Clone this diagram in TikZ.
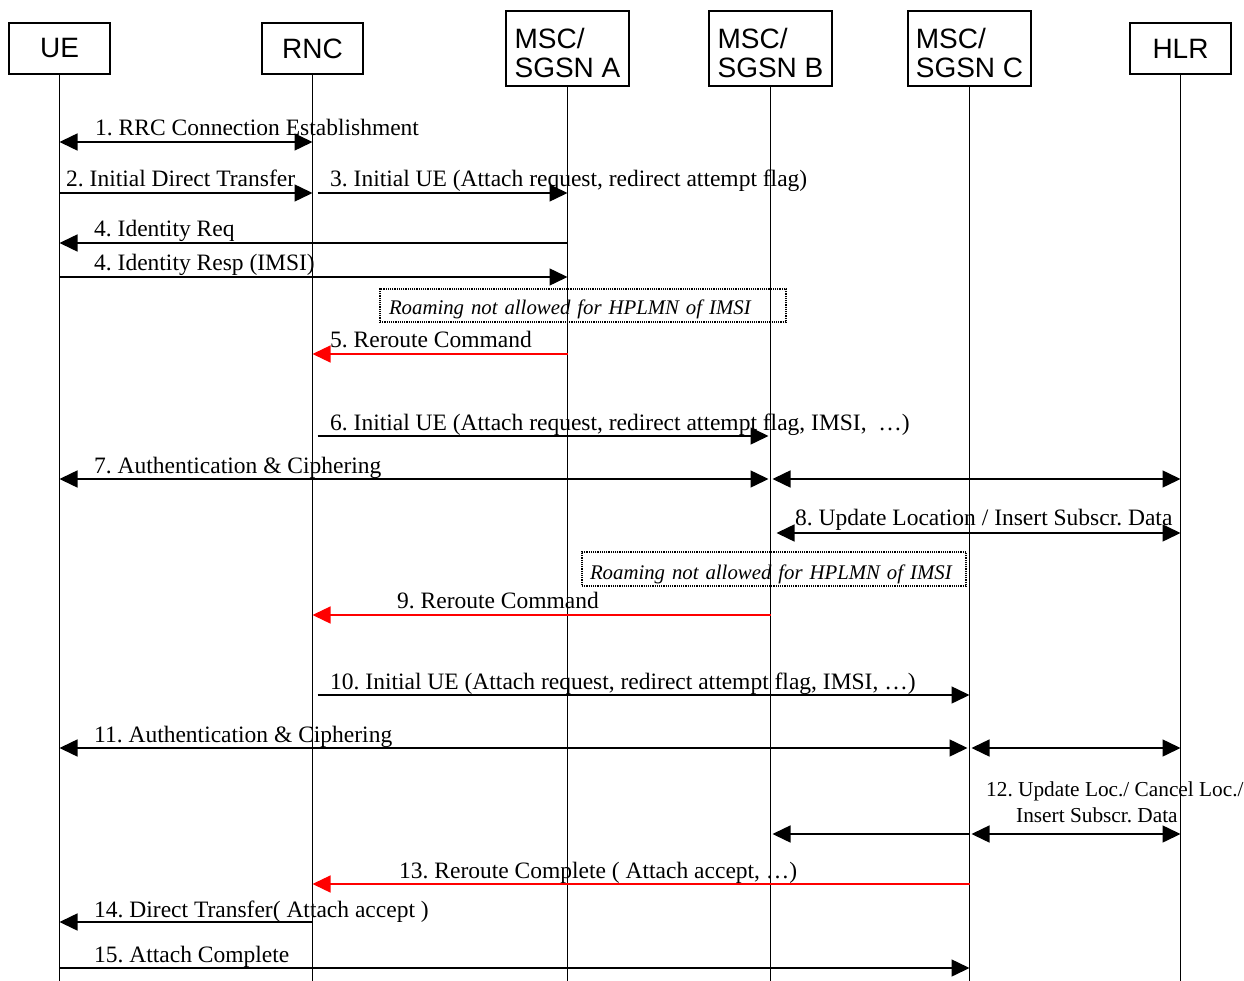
\documentclass[tikz,border=0pt]{standalone}
\usepackage{fontspec}
\setmainfont{Liberation Serif}
\newfontfamily\arialf{Liberation Sans}
\usetikzlibrary{arrows.meta,calc}
\frenchspacing
\tikzset{
  ent/.style={draw, line width=1.3pt, font=\arialf\fontsize{28}{29}\selectfont, inner sep=0pt, align=left},
  ent1/.style={ent, minimum width=101pt, minimum height=51pt},
  ent2/.style={ent, minimum width=123pt, minimum height=75pt},
  life/.style={line width=1.1pt},
  msg/.style={line width=1.5pt},
  redmsg/.style={line width=1.3pt, draw=red, fill=red, ->},
  lbl/.style={anchor=base west, inner sep=0pt, font=\frenchspacing\fontsize{23.5}{28}\selectfont},
  note/.style={draw, densely dotted, line width=1.2pt, inner xsep=9pt, inner ysep=4pt, align=left, font=\itshape\fontsize{20.8}{25}\selectfont}
}
\begin{document}
\begin{tikzpicture}[x=1pt,y=-1pt, >={Triangle[length=18pt,width=17pt]}]
\useasboundingbox (0,0) rectangle (1244,981);
% entities
\node[ent1] (UE)  at (59.5,48.5) {UE};
\node[ent1] (RNC) at (312.5,48.5) {RNC};
\node[ent2] (MA)  at (567.5,48.5) {\rule{0pt}{30pt}MSC/\\SGSN A};
\node[ent2] (MB)  at (770.5,48.5) {\rule{0pt}{30pt}MSC/\\SGSN B};
\node[ent2] (MC)  at (969.5,48.5) {\rule{0pt}{30pt}MSC/\\SGSN C};
\node[ent1] (HLR) at (1180.5,48.5) {HLR};
\coordinate (bot) at (0,981);
% lifelines
\foreach \n in {UE,RNC,MA,MB,MC,HLR}
  \draw[life] (\n.south) -- (\n.south |- bot);
% message rows
\coordinate (y1) at (0,142);
\coordinate (y2) at (0,193);
\coordinate (y4) at (0,243);
\coordinate (y4b) at (0,277);
\coordinate (y5) at (0,354);
\coordinate (y6) at (0,436);
\coordinate (y7) at (0,479);
\coordinate (y8) at (0,533);
\coordinate (y9) at (0,615);
\coordinate (y10) at (0,695);
\coordinate (y11) at (0,748);
\coordinate (y12) at (0,834);
\coordinate (y13) at (0,884);
\coordinate (y14) at (0,922);
\coordinate (y15) at (0,968);
% 1
\draw[msg,<->] (UE |- y1) -- (RNC |- y1);
\node[lbl] (l1) at (95,136) {1. RRC Connection Establishment};
% 2, 3
\draw[msg,->] (UE |- y2) -- (RNC |- y2);
\node[lbl] (l2) at (66,187) {2. Initial Direct Transfer};
\draw[msg,->] ($(RNC |- y2)+(5,0)$) -- (MA |- y2);
\node[lbl] (l3) at (330,187) {3. Initial UE (Attach request, redirect attempt flag)};
% 4
\draw[msg,->] (MA |- y4) -- (UE |- y4);
\node[lbl] (l4) at (94,237) {4. Identity Req};
\draw[msg,->] (UE |- y4b) -- (MA |- y4b);
\node[lbl] (l4b) at (94,271) {4. Identity Resp (IMSI)};
% note 1
\node[note, minimum width=406pt, minimum height=33pt, text width=388pt, text height=22pt, text depth=3pt] (n1) at (583,305.5) {Roaming not allowed for HPLMN of IMSI};
% 5
\draw[redmsg] (MA |- y5) -- (RNC |- y5);
\node[lbl] (l5) at (330,348) {5. Reroute Command};
% 6
\draw[msg,->] ($(RNC |- y6)+(5,0)$) -- ($(MB |- y6)+(-2,0)$);
\node[lbl] (l6) at (330,430) {6. Initial UE (Attach request, redirect attempt flag, IMSI, \ …)};
% 7
\draw[msg,<->] (UE |- y7) -- ($(MB |- y7)+(-2,0)$);
\draw[msg,<->] ($(MB |- y7)+(2,0)$) -- (HLR |- y7);
\node[lbl] (l7) at (94,473) {7. Authentication \& Ciphering};
% 8
\draw[msg,<->] ($(MB |- y8)+(6,0)$) -- (HLR |- y8);
\node[lbl] (l8) at (795,525) {8. Update Location / Insert Subscr. Data};
% note 2
\node[note, inner xsep=8pt, inner ysep=5pt, minimum width=384pt, minimum height=34pt, text width=368pt, text height=22pt, text depth=2pt] (n2) at (774,569) {Roaming not allowed for HPLMN of IMSI};
% 9
\draw[redmsg] (MB |- y9) -- (RNC |- y9);
\node[lbl] (l9) at (397,608) {9. Reroute Command};
% 10
\draw[msg,->] ($(RNC |- y10)+(5,0)$) -- (MC |- y10);
\node[lbl] (l10) at (330,689) {10. Initial UE (Attach request, redirect attempt flag, IMSI, …)};
% 11
\draw[msg,<->] (UE |- y11) -- ($(MC |- y11)+(-2,0)$);
\draw[msg,<->] ($(MC |- y11)+(2,0)$) -- (HLR |- y11);
\node[lbl] (l11) at (94,742) {11. Authentication \& Ciphering};
% 12
\draw[msg,->] ($(MC |- y12)+(-1,0)$) -- ($(MB |- y12)+(2,0)$);
\draw[msg,<->] ($(MC |- y12)+(2,0)$) -- (HLR |- y12);
\node[anchor=north west, inner sep=0pt, align=left, font=\frenchspacing\fontsize{21.3}{26}\selectfont] (l12) at (986,782) {12. Update Loc./ Cancel Loc./\\\hspace*{30pt}Insert Subscr. Data};
% 13
\draw[redmsg] (MC |- y13) -- (RNC |- y13);
\node[lbl] (l13) at (399,878) {13. Reroute Complete ( Attach accept, …)};
% 14
\draw[msg,->] (RNC |- y14) -- (UE |- y14);
\node[lbl] (l14) at (94,917) {14. Direct Transfer( Attach accept )};
% 15
\draw[msg,->] (UE |- y15) -- (MC |- y15);
\node[lbl] (l15) at (94,962) {15. Attach Complete};
\end{tikzpicture}
\end{document}
